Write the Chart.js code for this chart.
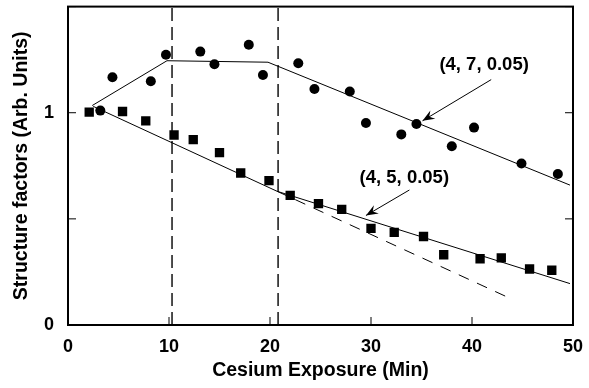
<!DOCTYPE html>
<html>
<head>
<meta charset="utf-8">
<script src="https://cdn.jsdelivr.net/npm/chart.js@4/dist/chart.umd.min.js"></script>
<style>
  html, body { margin: 0; padding: 0; background: #fff; }
  #wrap { width: 589px; height: 388px; }
</style>
</head>
<body>
<div id="wrap"><canvas id="sfChart"></canvas></div>
<script>
// measured points, (4, 7, 0.05) series - circles
const circleX = [3.2, 4.4, 8.2, 9.7, 13.1, 14.5, 17.9, 19.3, 22.8, 24.4, 27.9, 29.5, 33.0, 34.5, 38.0, 40.2, 44.9, 48.5];
const circleY = [1.01, 1.167, 1.148, 1.273, 1.288, 1.228, 1.32, 1.178, 1.233, 1.112, 1.1, 0.952, 0.898, 0.947, 0.842, 0.93, 0.761, 0.711];

// measured points, (4, 5, 0.05) series - squares
const squareX = [2.1, 5.4, 7.7, 10.5, 12.4, 15.0, 17.1, 19.9, 22.0, 24.8, 27.1, 30.0, 32.3, 35.2, 37.2, 40.8, 42.9, 45.7, 47.9];
const squareY = [1.003, 1.006, 0.962, 0.895, 0.873, 0.812, 0.716, 0.68, 0.611, 0.572, 0.545, 0.455, 0.436, 0.417, 0.331, 0.312, 0.316, 0.264, 0.258];

// model curves
const fit7X = [2.4, 9.8, 19.8, 49.7];
const fit7Y = [1.034, 1.245, 1.238, 0.659];
const fit5X = [2.5, 20.7, 49.7];
const fit5Y = [1.03, 0.63, 0.195];
const fit5DashX = [20.7, 43.8];
const fit5DashY = [0.63, 0.125];

// vertical markers
const markerX = [10.3, 20.8];

// labels + arrows (text pos, arrow tail, arrow head)
const noteText = ['(4, 7, 0.05)', '(4, 5, 0.05)'];
const noteX = [41.2, 33.3];
const noteY = [1.226, 0.695];
const arrowFromX = [41.9, 33.8];
const arrowFromY = [1.156, 0.636];
const arrowToX = [35.1, 29.5];
const arrowToY = [0.962, 0.516];

const xTicks = [0, 10, 20, 30, 40, 50];
const yTicks = [0, 0.5, 1, 1.5];
const yLabels = { 0: '0', 1: '1' };

const FONT = 'Liberation Sans, Arial, Helvetica, sans-serif';

const pts = (xs, ys) => xs.map((x, i) => ({ x: x, y: ys[i] }));

const lineDs = (xs, ys, dash, w) => ({
  type: 'line',
  data: pts(xs, ys),
  borderColor: '#000',
  borderWidth: w || 1,
  borderDash: dash || [],
  pointRadius: 0,
  fill: false,
  tension: 0
});

const datasets = [
  lineDs(fit7X, fit7Y),
  lineDs(fit5X, fit5Y),
  lineDs(fit5DashX, fit5DashY, [11, 9]),
  {
    type: 'scatter',
    data: pts(circleX, circleY),
    pointStyle: 'circle',
    pointRadius: 5,
    backgroundColor: '#000',
    borderColor: '#000',
    borderWidth: 0
  },
  {
    type: 'scatter',
    data: pts(squareX, squareY),
    pointStyle: 'rect',
    pointRadius: 6.6,
    backgroundColor: '#000',
    borderColor: '#000',
    borderWidth: 0
  }
];
markerX.forEach(mx => datasets.push(lineDs([mx, mx], [0, 1.5], [13, 6], 1.4)));

// frame, inward ticks, notes and arrows
const decor = {
  id: 'decor',
  afterDraw(chart) {
    const { ctx, chartArea: a, scales: { x, y } } = chart;
    ctx.save();
    ctx.strokeStyle = '#000';
    ctx.fillStyle = '#000';
    ctx.lineWidth = 1;
    ctx.beginPath();
    xTicks.forEach(v => {
      const px = x.getPixelForValue(v);
      ctx.moveTo(px, a.bottom);
      ctx.lineTo(px, a.bottom - 8);
    });
    yTicks.forEach(v => {
      const py = y.getPixelForValue(v);
      ctx.moveTo(a.left, py);
      ctx.lineTo(a.left + 8, py);
      ctx.moveTo(a.right, py);
      ctx.lineTo(a.right - 8, py);
    });
    ctx.stroke();

    ctx.lineWidth = 2;
    ctx.strokeRect(a.left, a.top, a.right - a.left, a.bottom - a.top);

    ctx.font = 'bold 18.5px ' + FONT;
    ctx.textAlign = 'center';
    ctx.textBaseline = 'middle';
    noteText.forEach((t, i) => {
      ctx.fillText(t, x.getPixelForValue(noteX[i]), y.getPixelForValue(noteY[i]));
      const x0 = x.getPixelForValue(arrowFromX[i]), y0 = y.getPixelForValue(arrowFromY[i]);
      const x1 = x.getPixelForValue(arrowToX[i]), y1 = y.getPixelForValue(arrowToY[i]);
      const ang = Math.atan2(y1 - y0, x1 - x0);
      ctx.lineWidth = 1;
      ctx.beginPath();
      ctx.moveTo(x0, y0);
      ctx.lineTo(x1, y1);
      ctx.stroke();
      // arrow head
      const len = 13, spread = 0.38;
      ctx.beginPath();
      ctx.moveTo(x1, y1);
      ctx.lineTo(x1 - len * Math.cos(ang - spread), y1 - len * Math.sin(ang - spread));
      ctx.lineTo(x1 - len * 0.6 * Math.cos(ang), y1 - len * 0.6 * Math.sin(ang));
      ctx.lineTo(x1 - len * Math.cos(ang + spread), y1 - len * Math.sin(ang + spread));
      ctx.closePath();
      ctx.fill();
    });
    ctx.restore();
  }
};

new Chart(document.getElementById('sfChart'), {
  data: { datasets },
  options: {
    responsive: true,
    maintainAspectRatio: false,
    animation: false,
    layout: { padding: { top: 3, right: 16, left: 0, bottom: 0 } },
    plugins: { legend: { display: false }, tooltip: { enabled: false } },
    scales: {
      x: {
        type: 'linear',
        min: 0,
        max: 50,
        grid: { display: false, drawTicks: false },
        border: { display: false },
        afterBuildTicks: s => { s.ticks = xTicks.map(v => ({ value: v })); },
        afterFit: s => { s.height = 63; s.paddingLeft = 0; s.paddingRight = 0; },
        ticks: {
          color: '#000',
          padding: 11,
          maxRotation: 0,
          font: { family: FONT, size: 18, weight: 'bold' }
        },
        title: {
          display: true,
          text: 'Cesium Exposure (Min)',
          color: '#000',
          padding: { top: 0, bottom: 6 },
          font: { family: FONT, size: 19.5, weight: 'bold' }
        }
      },
      y: {
        type: 'linear',
        min: 0,
        max: 1.5,
        grid: { display: false, drawTicks: false },
        border: { display: false },
        afterBuildTicks: s => { s.ticks = yTicks.map(v => ({ value: v })); },
        afterFit: s => { s.width = 68; s.paddingTop = 0; s.paddingBottom = 0; },
        ticks: {
          color: '#000',
          padding: 14,
          font: { family: FONT, size: 18, weight: 'bold' },
          callback: v => yLabels[v] || ''
        },
        title: {
          display: true,
          text: 'Structure factors (Arb. Units)',
          color: '#000',
          padding: { top: 10, bottom: 0 },
          font: { family: FONT, size: 19.5, weight: 'bold' }
        }
      }
    }
  },
  plugins: [decor]
});
</script>
</body>
</html>
